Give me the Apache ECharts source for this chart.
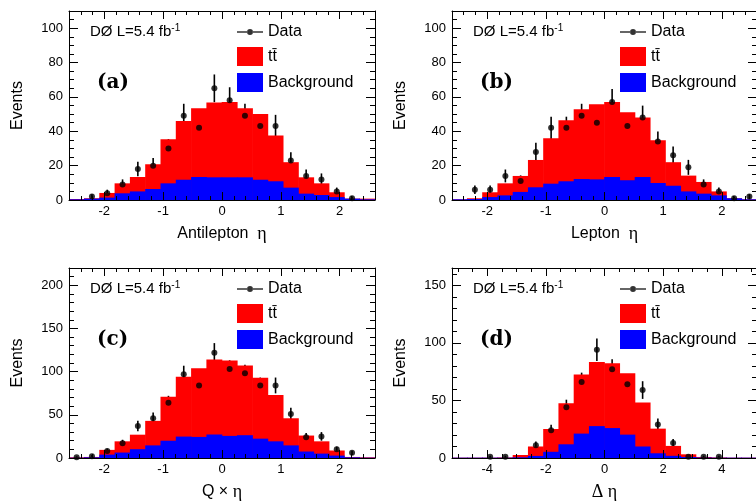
<!DOCTYPE html>
<html><head><meta charset="utf-8">
<script src="https://cdn.jsdelivr.net/npm/echarts@6/dist/echarts.min.js"></script>
<style>html,body{margin:0;padding:0;background:#fff}#c{width:756px;height:504px}</style>
</head><body><div id="c"></div>
<script>
// bin centres
const etaBins = ['-2.47','-2.21','-1.95','-1.69','-1.43','-1.17','-0.91','-0.65','-0.39','-0.13','0.13','0.39','0.65','0.91','1.17','1.43','1.69','1.95','2.21','2.47'];
const dEtaBins = ['-4.94','-4.42','-3.90','-3.38','-2.86','-2.34','-1.82','-1.30','-0.78','-0.26','0.26','0.78','1.30','1.82','2.34','2.86','3.38','3.90','4.42','4.94'];

// (a) Antilepton eta
const antiTotal = [0.6,1.0,4.1,9.7,13.4,20.8,35.3,46.0,53.4,56.7,57.0,53.4,50.0,37.5,22.0,13.2,9.7,4.5,0.8,0.8];
const antiBkg   = [0.4,0.8,1.4,3.9,5.0,6.4,9.7,11.8,13.4,13.2,13.2,13.2,11.8,10.9,7.2,3.7,2.9,1.7,0.8,0.4];
const antiData  = [0,2,4,9,18,20,30,49,42,65,58,49,43,43,23,14,12,5,1,0];
// (b) Lepton eta
const lepTotal = [0.4,1.0,4.5,9.7,14.0,23.3,36.0,46.4,52.8,55.7,57.0,51.0,48.0,34.8,22.0,14.2,10.5,5.0,1.0,0.4];
const lepBkg   = [0.4,0.6,1.7,2.7,4.7,7.4,9.5,10.9,12.2,12.0,13.4,11.5,13.4,9.9,8.3,5.0,3.7,2.7,1.0,0.4];
const lepData  = [0,6,6,14,11,28,42,42,49,45,57,43,48,34,26,19,9,5,1,2];
// (c) Q x eta
const qTotal = [0.8,1.2,9.4,19.3,27.0,43.0,71.0,94.0,104.0,114.0,113.0,107.0,93.0,73.0,46.0,26.0,19.3,8.7,1.2,0.8];
const qBkg   = [0.4,0.8,3.9,6.3,10.2,14.6,20.0,24.8,24.4,27.2,25.6,26.4,22.4,19.3,14.6,7.5,5.1,2.8,0.8,0.4];
const qData  = [1,2,8,17,37,46,64,97,84,122,103,98,84,84,51,24,25,10,6,0];
// (d) Delta eta
const dTotal = [0.3,0.3,0.3,0.5,2.6,10.0,25.2,47.6,72.5,83.3,82.2,73.7,48.1,25.5,10.5,3.2,0.9,0.5,0.3,0.3];
const dBkg   = [0.3,0.3,0.3,0.3,0.6,1.8,5.4,11.9,21.2,27.7,26.0,20.3,10.0,4.1,1.9,0.9,0.4,0.3,0.3,0.3];
const dData  = [0,0,1,1,0,11,24,44,66,94,77,64,59,29,13,1,1,1,0,0];

const xTitles = ['Antilepton  {g|η}', 'Lepton  {g|η}', 'Q {m|×} {g|η}', '{g|Δ η}'];
const panelTags = ['(a)', '(b)', '(c)', '(d)'];
const yTicks = [[0,110,20,4],[0,110,20,4],[0,220,50,5],[0,165,50,5]];
const xRange = [[-2.6,2.6,5],[-2.6,2.6,5],[-2.6,2.6,5],[-5.2,5.2,4]];

const panels = [
  {cats: etaBins, total: antiTotal, bkg: antiBkg, data: antiData, left: 69, top: 11, width: 306, height: 189},
  {cats: etaBins, total: lepTotal, bkg: lepBkg, data: lepData, left: 452, top: 11, width: 305, height: 189},
  {cats: etaBins, total: qTotal, bkg: qBkg, data: qData, left: 69, top: 268, width: 306, height: 190},
  {cats: dEtaBins, total: dTotal, bkg: dBkg, data: dData, left: 452, top: 268, width: 305, height: 190}
];

const FONT = 'Liberation Sans';
const blk = {color: '#000', width: 1};
const dataIcon = 'path://M0,2.25H10.2V3.75H0Z M15.8,2.25H26V3.75H15.8Z M10,3a3,3 0 1,0 6,0a3,3 0 1,0 -6,0Z';

const grid = [], xAxis = [], yAxis = [], series = [], legend = [], graphic = [];
panels.forEach((p, k) => {
  grid.push({left: p.left, top: p.top, width: p.width, height: p.height, containLabel: false, outerBoundsMode: 'none'});
  const [xmin, xmax, xminor] = xRange[k];
  const [ymin, ymax, yint, yminor] = yTicks[k];
  xAxis.push({type: 'category', gridIndex: k, data: p.cats, show: false, boundaryGap: true});
  xAxis.push({type: 'value', gridIndex: k, min: xmin, max: xmax, splitNumber: 5, position: 'bottom', z: 10,
    axisLine: {show: true, onZero: false, lineStyle: blk},
    axisTick: {show: true, inside: true, length: 8, lineStyle: blk},
    minorTick: {show: true, splitNumber: xminor, length: 4, lineStyle: blk},
    splitLine: {show: false},
    axisLabel: {show: true, fontSize: 13, fontFamily: FONT, color: '#000', margin: 5, showMinLabel: false, showMaxLabel: false},
    name: xTitles[k], nameLocation: 'middle', nameGap: 25,
    nameTextStyle: {fontSize: 16, fontFamily: FONT, color: '#000',
      rich: {g: {fontSize: 18, fontFamily: 'Liberation Serif', color: '#000'}, m: {fontSize: 16, fontFamily: FONT, color: '#000'}}}
  });
  xAxis.push({type: 'value', gridIndex: k, min: xmin, max: xmax, splitNumber: 5, position: 'top', z: 10,
    axisLine: {show: true, onZero: false, lineStyle: blk},
    axisTick: {show: true, inside: true, length: 8, lineStyle: blk},
    minorTick: {show: true, splitNumber: xminor, length: 4, lineStyle: blk},
    splitLine: {show: false}, axisLabel: {show: false}
  });
  yAxis.push({type: 'value', gridIndex: k, min: ymin, max: ymax, interval: yint, position: 'left', z: 10,
    axisLine: {show: true, onZero: false, lineStyle: blk},
    axisTick: {show: true, inside: true, length: 9, lineStyle: blk},
    minorTick: {show: true, splitNumber: yminor, length: 5, lineStyle: blk},
    splitLine: {show: false},
    axisLabel: {fontSize: 13, fontFamily: FONT, color: '#000', margin: 6, showMaxLabel: false},
    name: 'Events', nameLocation: 'middle', nameGap: 43,
    nameTextStyle: {fontSize: 16, fontFamily: FONT, color: '#000'}
  });
  yAxis.push({type: 'value', gridIndex: k, min: ymin, max: ymax, interval: yint, position: 'right', z: 10,
    axisLine: {show: true, onZero: false, lineStyle: blk},
    axisTick: {show: true, inside: true, length: 9, lineStyle: blk},
    minorTick: {show: true, splitNumber: yminor, length: 5, lineStyle: blk},
    splitLine: {show: false}, axisLabel: {show: false}
  });
  const xi = 3 * k, yi = 2 * k;
  series.push({type: 'bar', name: 'tt̄', xAxisIndex: xi, yAxisIndex: yi, data: p.total,
    barWidth: '104%', barGap: '-100%', barCategoryGap: 0,
    itemStyle: {color: '#ff0000'}, silent: true});
  series.push({type: 'bar', name: 'Background', xAxisIndex: xi, yAxisIndex: yi, data: p.bkg,
    barWidth: '104%', barGap: '-100%', barCategoryGap: 0,
    itemStyle: {color: '#0000ff'}, silent: true});
  const pts = [];
  p.data.forEach((v, i) => { if (v > 0) pts.push([i, v, Math.sqrt(v)]); });
  series.push({type: 'custom', name: 'errors', xAxisIndex: xi, yAxisIndex: yi, data: pts, encode: {x: 0, y: 1}, clip: true, silent: true,
    renderItem: (params, api) => {
      const a = api.coord([api.value(0), api.value(1) - api.value(2)]);
      const b = api.coord([api.value(0), api.value(1) + api.value(2)]);
      return {type: 'line', shape: {x1: a[0], y1: a[1], x2: b[0], y2: b[1]}, style: {stroke: '#000', lineWidth: 1.6}};
    }});
  series.push({type: 'scatter', name: 'Data', xAxisIndex: xi, yAxisIndex: yi, data: pts.map(d => [d[0], d[1]]),
    symbol: 'circle', symbolSize: 6, itemStyle: {color: '#000'}, silent: true});
  legend.push({orient: 'vertical', left: p.left + 168, top: p.top + 13, itemWidth: 26, itemHeight: 19, itemGap: 7,
    selectedMode: false, padding: 0,
    textStyle: {fontSize: 16, fontFamily: FONT, color: '#000'},
    data: [{name: 'Data', icon: dataIcon}, {name: 'tt̄', icon: 'rect'}, {name: 'Background', icon: 'rect'}]});
  graphic.push({type: 'text', left: p.left + 21, top: p.top + 12, z: 100,
    style: {text: 'DØ L=5.4 fb{s|-1}', fontSize: 15, fontFamily: FONT, fill: '#000',
      rich: {s: {fontSize: 10, fontFamily: FONT, fill: '#000', verticalAlign: 'top', lineHeight: 18, padding: [0, 0, 8, 0]}}}});
  graphic.push({type: 'text', left: p.left + 28, top: p.top + 62, z: 100,
    style: {text: panelTags[k], fontSize: 20, fontWeight: 'bold', fontFamily: 'DejaVu Serif', fill: '#000'}});
});

const chart = echarts.init(document.getElementById('c'), null, {renderer: 'canvas'});
chart.setOption({animation: false, backgroundColor: '#fff', grid, xAxis, yAxis, series, legend, graphic});
</script></body></html>
